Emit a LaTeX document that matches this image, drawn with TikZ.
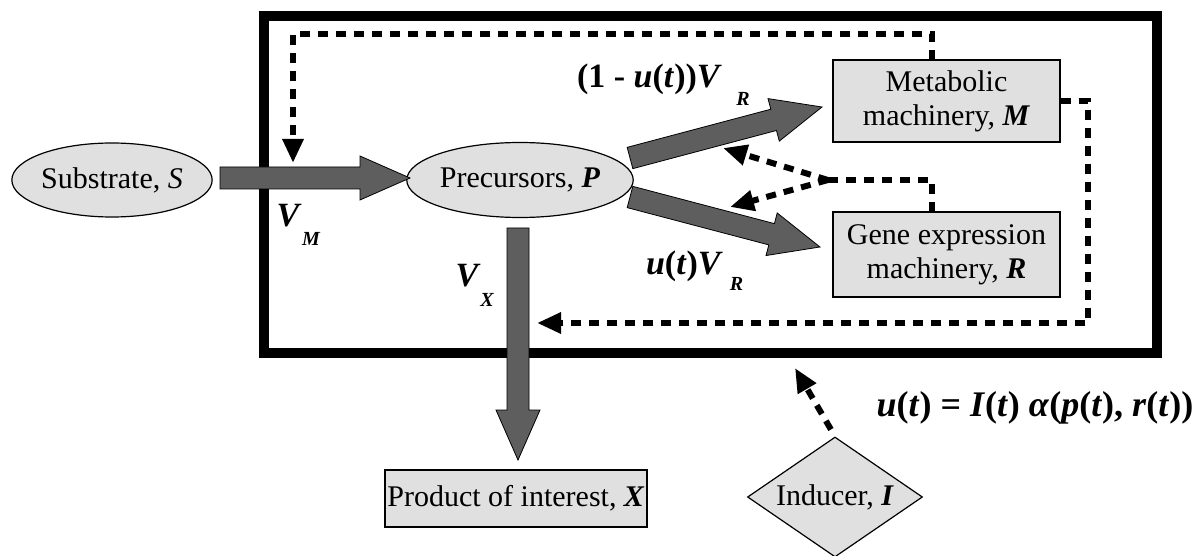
\documentclass[tikz,border=0pt]{standalone}
\usepackage{fontspec}
\setmainfont{Liberation Serif}
\usetikzlibrary{shapes.geometric,arrows.meta,calc}
\definecolor{nodegray}{HTML}{E0E0E0}
\definecolor{arrowgray}{HTML}{5E5E5E}
\newcommand{\bi}[1]{\textbf{\textit{#1}}}
\newcommand{\fatarrow}[2]{%
  \path[draw=black, fill=arrowgray, line width=0.4pt]
    let \p1=(#1), \p2=(#2), \n1={atan2(\y2-\y1,\x2-\x1)}, \n2={veclen(\x2-\x1,\y2-\y1)} in
    [shift={(\x1,\y1)}, rotate=\n1]
    (0pt,-5.5pt) -- ({(\n2-25)*1pt},-5.5pt) -- ({(\n2-25)*1pt},-11pt) -- ({\n2*1pt},0pt)
    -- ({(\n2-25)*1pt},11pt) -- ({(\n2-25)*1pt},5.5pt) -- (0pt,5.5pt) -- cycle;}
\tikzset{
  x=0.5pt, y=-0.5pt,
  nodetext/.style={font=\fontsize{15}{17}\selectfont, inner sep=0pt, draw=black, line width=0.6pt, fill=nodegray},
  ell/.style={nodetext, ellipse},
  box/.style={nodetext, rectangle, align=center},
  dia/.style={nodetext, diamond, aspect=1.46},
  fb/.style={line width=3pt, dash pattern=on 5pt off 4pt, -{Triangle[length=12pt,width=10pt]}},
  fbline/.style={line width=3pt, dash pattern=on 5pt off 4pt},
  lab/.style={font=\fontsize{17}{19}\selectfont\bfseries, inner sep=0pt},
  formlab/.style={font=\fontsize{18}{20}\selectfont\bfseries, inner sep=0pt},
  sublab/.style={font=\fontsize{10}{12}\selectfont\bfseries\itshape, inner sep=0pt},
}
\begin{document}
\begin{tikzpicture}
\useasboundingbox (0,0) rectangle (1201,556);
% cell boundary
\node[draw=black, line width=5pt, minimum width=446.5pt, minimum height=168.5pt, inner sep=0pt] (cell) at (710.5,184.5) {};
% nodes
\node[ell, minimum width=99pt, minimum height=37pt] (S) at (112,180) {Substrate, \textit{S}};
\node[ell, minimum width=102.5pt, minimum height=37.5pt] (P) at (520,180) {Precursors, \bi{P}};
\node[box, minimum width=113.5pt, minimum height=41pt] (M) at (946.5,101) {Metabolic\\machinery, \bi{M}};
\node[box, minimum width=113.5pt, minimum height=42.5pt] (R) at (946.5,254.5) {Gene expression\\machinery, \bi{R}};
\node[box, minimum width=131pt, minimum height=28.5pt] (X) at (516,498.5) {Product of interest, \bi{X}};
\node[dia, minimum width=87.5pt, minimum height=60pt] (I) at (835,497) {Inducer, \bi{I}};
% fat arrow end points
\coordinate (sp1) at (220,178);
\coordinate (sp2) at (410,178);
\coordinate (pm1) at (630,158);
\coordinate (pm2) at (822,107);
\coordinate (pr1) at (630,197);
\coordinate (pr2) at (820,247);
\coordinate (px1) at (518,228);
\coordinate (px2) at (518,460);
\fatarrow{sp1}{sp2}
\fatarrow{pm1}{pm2}
\fatarrow{pr1}{pr2}
\fatarrow{px1}{px2}
% feedback dashed lines
\coordinate (mtop) at (932,60);
\coordinate (topleft) at (293,34);
\coordinate (vmtip) at (293,163);
\draw[fb] (mtop) |- (topleft) -- (vmtip);
\coordinate (rtop) at (932,212);
\coordinate (junc) at (828,180);
\coordinate (tipa) at (723,148);
\coordinate (tipb) at (730,207);
\draw[fbline] (rtop) |- (junc);
\draw[fb] (junc) -- (tipa);
\draw[fb] (junc) -- (tipb);
\coordinate (rcorner) at (1088,323);
\coordinate (xtip) at (537,323);
\draw[fb] (M.east) -| (rcorner) -- (xtip);
\coordinate (indtip) at (795,368);
\draw[fb, shorten <=4pt] (I.north) -- (indtip);
% labels
\node[lab] (vm) at (289,216) {\textit{V}};
\node[sublab] (vms) at (311,239) {M};
\node[lab] (vx) at (468,276) {\textit{V}};
\node[sublab] (vxs) at (487,300) {X};
\node[lab] (l1) at (649.5,79) {(1 - \textit{u}(\textit{t}))\textit{V}};
\node[sublab] (l1s) at (743,99) {R};
\node[lab] (l2) at (684.5,266) {\textit{u}(\textit{t})\textit{V}};
\node[sublab] (l2s) at (736.5,284) {R};
\node[formlab] (form) at (1035,408) {\textit{u}(\textit{t}) = \textit{I}(\textit{t}) \textit{α}(\textit{p}(\textit{t}), \textit{r}(\textit{t}))};
\end{tikzpicture}
\end{document}
